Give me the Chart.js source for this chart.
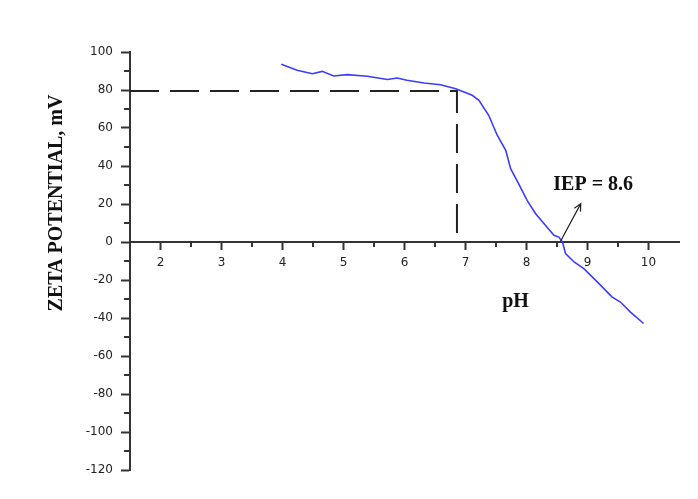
<!DOCTYPE html>
<html>
<head>
<meta charset="utf-8">
<script src="https://cdn.jsdelivr.net/npm/chart.js@4/dist/chart.umd.min.js"></script>
<style>
  html, body { margin: 0; padding: 0; background: #fff; }
  #wrap { width: 698px; height: 499px; }
</style>
</head>
<body>
<div id="wrap"><canvas id="zetaChart" width="698" height="499"></canvas></div>
<script>
/* ---------- DATA ---------- */
const phValues = [3.98, 4.24, 4.49, 4.65, 4.84, 5.06, 5.39, 5.72, 5.88, 6.04, 6.32, 6.59, 6.84,
                  7.11, 7.22, 7.38, 7.52, 7.66, 7.74, 7.87, 8.01, 8.15, 8.31, 8.45, 8.53, 8.59,
                  8.64, 8.78, 8.94, 9.16, 9.40, 9.54, 9.70, 9.92];
const zetaValues = [93.5, 90.4, 88.6, 89.8, 87.4, 88.1, 87.2, 85.5, 86.3, 85.1, 83.7, 82.8, 80.7,
                    77.2, 74.6, 66.7, 56.2, 48.3, 38.6, 30.7, 21.9, 14.9, 8.8, 3.5, 2.6, 0,
                    -6.1, -10.5, -14, -21, -28.9, -31.6, -36.8, -42.9];

// dashed guide: pH 6.86 at 79.5 mV
const guidePh = 6.86;
const guideZeta = 79.5;

// IEP annotation
const iepLabel = "IEP = 8.6";
const iepLabelAt = [8.44, 27.2];
const iepArrowFrom = [8.56, 0.5];
const iepArrowTo = [8.89, 20.2];

const xTitle = "pH";
const xTitleAt = [7.82, -34.4];
const yTitle = "ZETA POTENTIAL, mV";

const xMin = 1.5, xMax = 10.5;
const yMin = -120, yMax = 100;

/* ---------- STYLE ---------- */
const axisColor = "#333";
const tickFont = { family: "DejaVu Sans", size: 12 };
const serifBold = "bold 20px 'Liberation Serif'";

/* ---------- EXTRA DRAWING: minor ticks, titles, arrow ---------- */
const extras = {
    id: "extras",
    afterDraw(chart) {
        const ctx = chart.ctx;
        const xs = chart.scales.x, ys = chart.scales.y;
        const area = chart.chartArea;
        const x0 = xs.getPixelForValue, y0 = ys.getPixelForValue;
        const px = v => xs.getPixelForValue(v);
        const py = v => ys.getPixelForValue(v);

        ctx.save();
        ctx.strokeStyle = axisColor;
        ctx.lineWidth = 2;

        // minor y ticks
        for (let v = yMin + 10; v < yMax; v += 20) {
            const y = Math.round(py(v));
            ctx.beginPath();
            ctx.moveTo(area.left - 6, y);
            ctx.lineTo(area.left, y);
            ctx.stroke();
        }
        // minor x ticks
        const axisY = py(0);
        for (let v = 2.5; v < xMax; v += 1) {
            const x = Math.round(px(v));
            ctx.beginPath();
            ctx.moveTo(x, axisY);
            ctx.lineTo(x, axisY + 5);
            ctx.stroke();
        }

        // arrow
        const ax1 = px(iepArrowFrom[0]), ay1 = py(iepArrowFrom[1]);
        const ax2 = px(iepArrowTo[0]), ay2 = py(iepArrowTo[1]);
        ctx.strokeStyle = "#222";
        ctx.lineWidth = 1.2;
        ctx.beginPath();
        ctx.moveTo(ax1, ay1);
        ctx.lineTo(ax2, ay2);
        const ang = Math.atan2(ay2 - ay1, ax2 - ax1);
        const head = 8;
        ctx.moveTo(ax2 - head * Math.cos(ang - 0.45), ay2 - head * Math.sin(ang - 0.45));
        ctx.lineTo(ax2, ay2);
        ctx.lineTo(ax2 - head * Math.cos(ang + 0.45), ay2 - head * Math.sin(ang + 0.45));
        ctx.stroke();

        // text labels
        ctx.fillStyle = "#111";
        ctx.font = serifBold;
        ctx.textBaseline = "alphabetic";
        ctx.textAlign = "left";
        ctx.fillText(iepLabel, px(iepLabelAt[0]), py(iepLabelAt[1]));
        ctx.textAlign = "center";
        ctx.fillText(xTitle, px(xTitleAt[0]), py(xTitleAt[1]));

        // rotated y title
        ctx.translate(area.left - 68, area.top + 151);
        ctx.rotate(-Math.PI / 2);
        ctx.textAlign = "center";
        ctx.fillText(yTitle, 0, 0);
        ctx.restore();
    }
};

/* ---------- CHART ---------- */
const ctx = document.getElementById("zetaChart").getContext("2d");

new Chart(ctx, {
    type: "line",
    data: {
        datasets: [
            {
                label: "Zeta potential",
                data: phValues.map((p, i) => ({ x: p, y: zetaValues[i] })),
                borderColor: "#3c3cff",
                borderWidth: 1.6,
                pointRadius: 0,
                tension: 0
            },
            {
                label: "guide",
                data: [
                    { x: xMin, y: guideZeta },
                    { x: guidePh, y: guideZeta },
                    { x: guidePh, y: 0 }
                ],
                borderColor: "#222",
                borderWidth: 2,
                borderDash: [29, 11],
                pointRadius: 0,
                tension: 0
            }
        ]
    },
    options: {
        responsive: false,
        animation: false,
        layout: { padding: { left: 0, right: 19, top: 52, bottom: 29 } },
        plugins: {
            legend: { display: false },
            tooltip: { enabled: false }
        },
        scales: {
            x: {
                type: "linear",
                min: xMin,
                max: xMax,
                position: { y: 0 },
                afterBuildTicks: axis => {
                    axis.ticks = [2, 3, 4, 5, 6, 7, 8, 9, 10].map(v => ({ value: v }));
                },
                ticks: { color: "#222", font: tickFont, padding: 7, maxRotation: 0 },
                grid: {
                    drawOnChartArea: false,
                    drawTicks: true,
                    tickLength: 7,
                    tickColor: axisColor,
                    tickWidth: 2
                },
                border: { display: true, color: axisColor, width: 2 }
            },
            y: {
                type: "linear",
                min: yMin,
                max: yMax,
                afterFit: axis => { axis.width = 130; },
                ticks: { stepSize: 20, color: "#222", font: tickFont, padding: 8 },
                grid: {
                    drawOnChartArea: false,
                    drawTicks: true,
                    tickLength: 9,
                    tickColor: axisColor,
                    tickWidth: 2
                },
                border: { display: true, color: axisColor, width: 2 }
            }
        }
    },
    plugins: [extras]
});
</script>
</body>
</html>
